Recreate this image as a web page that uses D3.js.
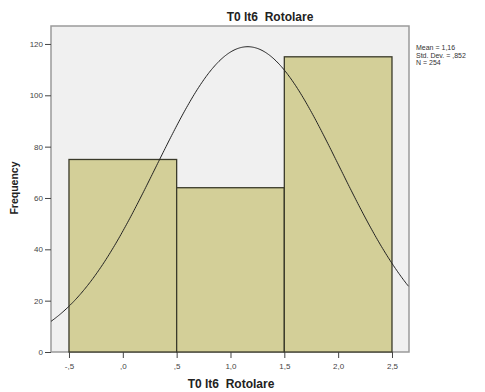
<!DOCTYPE html>
<html>
<head>
<meta charset="utf-8">
<script src="https://cdn.jsdelivr.net/npm/d3@7"></script>
<style>
  body { margin: 0; background: #fff; }
  svg { display: block; font-family: "Liberation Sans", Arial, sans-serif; }
  .title { white-space: pre; }
</style>
</head>
<body>
<svg id="chart" width="485" height="392"></svg>
<script>
// Histogram bins (value ranges) and frequencies
const binStarts = [-0.5, 0.5, 1.5];
const binEnds = [0.5, 1.5, 2.5];
const frequencies = [75, 64, 115];
const xTicks = [-0.5, 0, 0.5, 1.0, 1.5, 2.0, 2.5];
const xTickLabels = ["-,5", ",0", ",5", "1,0", "1,5", "2,0", "2,5"];
const yTicks = [0, 20, 40, 60, 80, 100, 120];
const stats = { mean: 1.16, sd: 0.852, n: 254 };
const statLines = ["Mean = 1,16", "Std. Dev. = ,852", "N = 254"];

const svg = d3.select("#chart");
const plot = { left: 51, top: 26, right: 409, bottom: 352 };

const x = d3.scaleLinear().domain([-0.667, 2.658]).range([plot.left, plot.right]);
const y = d3.scaleLinear().domain([0, 127]).range([plot.bottom, plot.top]);

// Plot background
svg.append("rect")
  .attr("x", plot.left).attr("y", plot.top)
  .attr("width", plot.right - plot.left).attr("height", plot.bottom - plot.top)
  .attr("fill", "#f0f0f0").attr("stroke", "#9a9a9a").attr("stroke-width", 1.5);

// Bars
svg.selectAll("rect.bar")
  .data(frequencies)
  .join("rect")
  .attr("class", "bar")
  .attr("x", (d, i) => x(binStarts[i]))
  .attr("y", d => y(d))
  .attr("width", (d, i) => x(binEnds[i]) - x(binStarts[i]))
  .attr("height", d => y(0) - y(d))
  .attr("fill", "#d3cf98")
  .attr("stroke", "#3a3a2a")
  .attr("stroke-width", 1.3);

// Normal curve scaled to the histogram (bin width 1)
const pdf = v => stats.n * 1 / (stats.sd * Math.sqrt(2 * Math.PI)) *
  Math.exp(-0.5 * Math.pow((v - stats.mean) / stats.sd, 2));
const xs = d3.range(x.domain()[0], x.domain()[1] + 0.001, 0.01);
svg.append("path")
  .datum(xs)
  .attr("d", d3.line().x(v => x(v)).y(v => y(pdf(v))).curve(d3.curveBasis))
  .attr("fill", "none")
  .attr("stroke", "#222")
  .attr("stroke-width", 1);

// Y axis
const yAxis = d3.axisLeft(y).tickValues(yTicks).tickSize(6).tickPadding(2).tickFormat(d3.format("d"));
const gy = svg.append("g").attr("transform", `translate(${plot.left},0)`).call(yAxis);
gy.select(".domain").remove();
gy.selectAll("line").attr("stroke", "#444");
gy.selectAll("text").attr("font-size", 8).attr("fill", "#444");

// X axis
const xAxis = d3.axisBottom(x).tickValues(xTicks).tickSize(6).tickPadding(5)
  .tickFormat((d, i) => xTickLabels[i]);
const gx = svg.append("g").attr("transform", `translate(0,${plot.bottom})`).call(xAxis);
gx.select(".domain").remove();
gx.selectAll("line").attr("stroke", "#444");
gx.selectAll("text").attr("font-size", 8).attr("fill", "#444");

// Titles
svg.append("text").attr("class", "title").attr("x", 270).attr("y", 21).attr("text-anchor", "middle")
  .attr("font-size", 12).attr("font-weight", "bold").attr("fill", "#222")
  .text("T0 lt6  Rotolare");
svg.append("text").attr("class", "title").attr("x", 231).attr("y", 388).attr("text-anchor", "middle")
  .attr("font-size", 12).attr("font-weight", "bold").attr("fill", "#222")
  .text("T0 lt6  Rotolare");
svg.append("text").attr("transform", "translate(18,188) rotate(-90)").attr("text-anchor", "middle")
  .attr("font-size", 10.5).attr("font-weight", "bold").attr("fill", "#222")
  .text("Frequency");

// Statistics legend
svg.append("g").selectAll("text")
  .data(statLines)
  .join("text")
  .attr("x", 416)
  .attr("y", (d, i) => 50 + i * 7.5)
  .attr("font-size", 7)
  .attr("fill", "#333")
  .text(d => d);
</script>
</body>
</html>
